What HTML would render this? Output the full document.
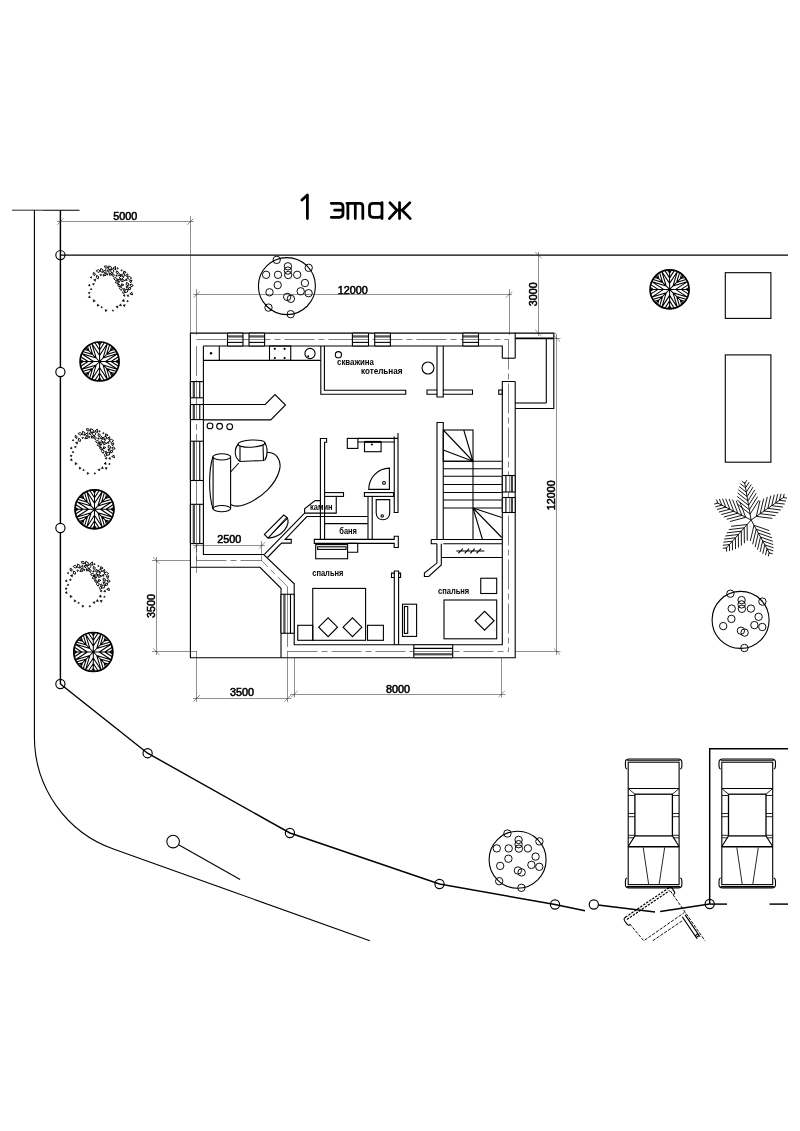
<!DOCTYPE html>
<html><head><meta charset="utf-8"><title>1 этаж</title>
<style>
html,body{margin:0;padding:0;background:#fff;}
body{width:800px;height:1131px;overflow:hidden;font-family:"Liberation Sans",sans-serif;}
svg{display:block;will-change:transform}
.w{stroke:#000;stroke-width:1.1;fill:none}
.w2{stroke:#000;stroke-width:1.6;fill:none}
.m{stroke:#000;stroke-width:.85;fill:none}
.m2{stroke:#000;stroke-width:.95;fill:none}
.f{stroke:#000;stroke-width:1.45;fill:none}
.t{stroke:#222;stroke-width:.5;fill:none}
.cl{stroke:#000;stroke-width:.5;fill:none;stroke-dasharray:30 4 6 4}
.dash{stroke:#000;stroke-width:.85;fill:none;stroke-dasharray:3.2 1.4}
.dash2{stroke:#000;stroke-width:1.2;fill:none;stroke-dasharray:2.4 1.2}
.pm{stroke:#000;stroke-width:.9;fill:none}
.tb{stroke:#000;stroke-width:1.05;fill:none}
.ta{stroke:#000;stroke-width:.5;fill:#000}
.tao{stroke:#000;stroke-width:.95;fill:none}
.d{font-family:"Liberation Sans",sans-serif;fill:#000;stroke:#000;stroke-width:.55}
.lbl{font-family:"Liberation Sans",sans-serif;fill:#000;font-weight:bold}
.ttl path{stroke:#000;stroke-width:2.75;fill:none;stroke-linecap:round;stroke-linejoin:round}
</style></head><body>
<svg width="800" height="1131" viewBox="0 0 800 1131">

<line class="m" x1="12" y1="210.2" x2="42.5" y2="210.2"/>
<line class="w" x1="42.5" y1="210.2" x2="79.5" y2="210.2"/>
<path class="w" d="M34.4 210.2 L34.4 737 A119 119 0 0 0 114.1 849.3 L369.8 940.7" />
<line class="f" x1="60.4" y1="210.2" x2="60.4" y2="684"/>
<line class="f" x1="60.4" y1="255.1" x2="788" y2="255.1"/>
<path class="f" d="M60.4 684 L147.6 753.2 L289.9 833 L439.5 884 L555 904.5 L585 910.7" />
<path class="f" d="M594 904.5 L655 912" />
<path class="f" d="M660.2 911.5 L709.7 904" />
<line class="f" x1="709.7" y1="904.1" x2="727" y2="904.1"/>
<line class="f" x1="769.5" y1="904.1" x2="788" y2="904.1"/>
<path class="f" d="M709.7 904 L709.7 748.7 L788 748.7" />
<circle cx="60.4" cy="255.1" r="4.6" fill="none" stroke="#000" stroke-width="1.15"/>
<circle cx="60.4" cy="684" r="4.6" fill="none" stroke="#000" stroke-width="1.15"/>
<circle cx="147.6" cy="753.2" r="4.6" fill="none" stroke="#000" stroke-width="1.15"/>
<circle cx="289.9" cy="833" r="4.6" fill="none" stroke="#000" stroke-width="1.15"/>
<circle cx="439.5" cy="884" r="4.6" fill="none" stroke="#000" stroke-width="1.15"/>
<circle cx="555" cy="904.5" r="4.6" fill="none" stroke="#000" stroke-width="1.15"/>
<circle cx="709.7" cy="904" r="4.6" fill="none" stroke="#000" stroke-width="1.15"/>
<circle cx="60.4" cy="372" r="4.6" fill="#fff" stroke="#000" stroke-width="1.15"/>
<circle cx="60.4" cy="528" r="4.6" fill="#fff" stroke="#000" stroke-width="1.15"/>
<circle cx="593.8" cy="904.5" r="4.6" fill="#fff" stroke="#000" stroke-width="1.15"/>
<circle class="w" cx="173.1" cy="841.6" r="6.3"/>
<line class="w" x1="178.6" y1="844.8" x2="240.1" y2="879.6"/>
<rect class="w" x="725.3" y="272.7" width="45.60000000000002" height="45.69999999999999"/>
<rect class="w" x="725.3" y="354.9" width="45.60000000000002" height="107.30000000000001"/>
<circle class="w" cx="286.9" cy="286.1" r="28.5"/>
<circle class="m2" cx="276.7" cy="259.9" r="3.7"/>
<circle class="m2" cx="287.9" cy="266.3" r="3.7"/>
<circle class="m2" cx="287.9" cy="270.6" r="3.7"/>
<circle class="m2" cx="288.2" cy="275.0" r="3.7"/>
<circle class="m2" cx="308.7" cy="267.8" r="3.7"/>
<circle class="m2" cx="266.1" cy="274.8" r="3.7"/>
<circle class="m2" cx="278.0" cy="274.8" r="3.7"/>
<circle class="m2" cx="297.2" cy="274.8" r="3.7"/>
<circle class="m2" cx="277.7" cy="285.1" r="3.7"/>
<circle class="m2" cx="304.9" cy="283.0" r="3.7"/>
<circle class="m2" cx="269.5" cy="292.3" r="3.7"/>
<circle class="m2" cx="300.7" cy="291.3" r="3.7"/>
<circle class="m2" cx="308.6" cy="293.2" r="3.7"/>
<circle class="m2" cx="287.2" cy="296.9" r="3.7"/>
<circle class="m2" cx="290.9" cy="298.8" r="3.7"/>
<circle class="m2" cx="268.5" cy="307.6" r="3.7"/>
<circle class="m2" cx="290.7" cy="314.2" r="3.7"/>
<circle class="w" cx="740.6" cy="619.9" r="28.5"/>
<circle class="m2" cx="730.4" cy="593.7" r="3.7"/>
<circle class="m2" cx="741.6" cy="600.1" r="3.7"/>
<circle class="m2" cx="741.6" cy="604.4" r="3.7"/>
<circle class="m2" cx="741.9" cy="608.8" r="3.7"/>
<circle class="m2" cx="762.4" cy="601.6" r="3.7"/>
<circle class="m2" cx="731.7" cy="608.6" r="3.7"/>
<circle class="m2" cx="750.9" cy="608.6" r="3.7"/>
<circle class="m2" cx="731.4" cy="618.9" r="3.7"/>
<circle class="m2" cx="758.6" cy="616.8" r="3.7"/>
<circle class="m2" cx="723.2" cy="626.1" r="3.7"/>
<circle class="m2" cx="754.4" cy="625.1" r="3.7"/>
<circle class="m2" cx="762.3" cy="627.0" r="3.7"/>
<circle class="m2" cx="740.9" cy="630.7" r="3.7"/>
<circle class="m2" cx="744.6" cy="632.6" r="3.7"/>
<circle class="m2" cx="744.4" cy="648.0" r="3.7"/>
<circle class="w" cx="517.6" cy="859.7" r="28.5"/>
<circle class="m2" cx="507.4" cy="833.5" r="3.7"/>
<circle class="m2" cx="518.6" cy="839.9" r="3.7"/>
<circle class="m2" cx="518.6" cy="844.2" r="3.7"/>
<circle class="m2" cx="518.9" cy="848.6" r="3.7"/>
<circle class="m2" cx="539.4" cy="841.4" r="3.7"/>
<circle class="m2" cx="496.8" cy="848.4" r="3.7"/>
<circle class="m2" cx="508.7" cy="848.4" r="3.7"/>
<circle class="m2" cx="527.9" cy="848.4" r="3.7"/>
<circle class="m2" cx="508.4" cy="858.7" r="3.7"/>
<circle class="m2" cx="535.6" cy="856.6" r="3.7"/>
<circle class="m2" cx="500.2" cy="865.9" r="3.7"/>
<circle class="m2" cx="531.4" cy="864.9" r="3.7"/>
<circle class="m2" cx="539.3" cy="866.8" r="3.7"/>
<circle class="m2" cx="517.9" cy="870.5" r="3.7"/>
<circle class="m2" cx="521.6" cy="872.4" r="3.7"/>
<circle class="m2" cx="499.2" cy="881.2" r="3.7"/>
<circle class="m2" cx="521.4" cy="887.8" r="3.7"/>
<circle cx="99.6" cy="361.5" r="19.5" fill="#fff" stroke="#000" stroke-width="1.7"/>
<path class="tb" d="M99.6 361.5L119.5 361.5M105.6 361.5L117.8 353.5M111.1 361.5L118.9 356.5M115.9 361.5L119.4 359.3M105.6 361.5L117.8 369.5M111.1 361.5L118.9 366.5M115.9 361.5L119.4 363.7M99.6 361.5L113.7 375.6M103.0 364.9L117.9 369.4M106.6 368.5L116.7 371.6M110.3 372.2L115.3 373.7M103.0 364.9L107.5 379.8M106.6 368.5L109.7 378.6M110.3 372.2L111.8 377.2M99.6 361.5L99.6 381.4M99.6 367.5L107.6 379.7M99.6 373.0L104.6 380.8M99.6 377.8L101.8 381.3M99.6 367.5L91.6 379.7M99.6 373.0L94.6 380.8M99.6 377.8L97.4 381.3M99.6 361.5L85.5 375.6M96.2 364.9L91.7 379.8M92.6 368.5L89.5 378.6M88.9 372.2L87.4 377.2M96.2 364.9L81.3 369.4M92.6 368.5L82.5 371.6M88.9 372.2L83.9 373.7M99.6 361.5L79.7 361.5M93.6 361.5L81.4 369.5M88.1 361.5L80.3 366.5M83.3 361.5L79.8 363.7M93.6 361.5L81.4 353.5M88.1 361.5L80.3 356.5M83.3 361.5L79.8 359.3M99.6 361.5L85.5 347.4M96.2 358.1L81.3 353.6M92.6 354.5L82.5 351.4M88.9 350.8L83.9 349.3M96.2 358.1L91.7 343.2M92.6 354.5L89.5 344.4M88.9 350.8L87.4 345.8M99.6 361.5L99.6 341.6M99.6 355.5L91.6 343.3M99.6 350.0L94.6 342.2M99.6 345.2L97.4 341.7M99.6 355.5L107.6 343.3M99.6 350.0L104.6 342.2M99.6 345.2L101.8 341.7M99.6 361.5L113.7 347.4M103.0 358.1L107.5 343.2M106.6 354.5L109.7 344.4M110.3 350.8L111.8 345.8M103.0 358.1L117.9 353.6M106.6 354.5L116.7 351.4M110.3 350.8L115.3 349.3" />
<circle cx="94.5" cy="509.3" r="19.5" fill="#fff" stroke="#000" stroke-width="1.7"/>
<path class="tb" d="M94.5 509.3L114.4 509.3M100.5 509.3L112.7 501.3M106.0 509.3L113.8 504.3M110.8 509.3L114.3 507.1M100.5 509.3L112.7 517.3M106.0 509.3L113.8 514.3M110.8 509.3L114.3 511.5M94.5 509.3L108.6 523.4M97.9 512.7L112.8 517.2M101.5 516.3L111.6 519.4M105.2 520.0L110.2 521.5M97.9 512.7L102.4 527.6M101.5 516.3L104.6 526.4M105.2 520.0L106.7 525.0M94.5 509.3L94.5 529.2M94.5 515.3L102.5 527.5M94.5 520.8L99.5 528.6M94.5 525.6L96.7 529.1M94.5 515.3L86.5 527.5M94.5 520.8L89.5 528.6M94.5 525.6L92.3 529.1M94.5 509.3L80.4 523.4M91.1 512.7L86.6 527.6M87.5 516.3L84.4 526.4M83.8 520.0L82.3 525.0M91.1 512.7L76.2 517.2M87.5 516.3L77.4 519.4M83.8 520.0L78.8 521.5M94.5 509.3L74.6 509.3M88.5 509.3L76.3 517.3M83.0 509.3L75.2 514.3M78.2 509.3L74.7 511.5M88.5 509.3L76.3 501.3M83.0 509.3L75.2 504.3M78.2 509.3L74.7 507.1M94.5 509.3L80.4 495.2M91.1 505.9L76.2 501.4M87.5 502.3L77.4 499.2M83.8 498.6L78.8 497.1M91.1 505.9L86.6 491.0M87.5 502.3L84.4 492.2M83.8 498.6L82.3 493.6M94.5 509.3L94.5 489.4M94.5 503.3L86.5 491.1M94.5 497.8L89.5 490.0M94.5 493.0L92.3 489.5M94.5 503.3L102.5 491.1M94.5 497.8L99.5 490.0M94.5 493.0L96.7 489.5M94.5 509.3L108.6 495.2M97.9 505.9L102.4 491.0M101.5 502.3L104.6 492.2M105.2 498.6L106.7 493.6M97.9 505.9L112.8 501.4M101.5 502.3L111.6 499.2M105.2 498.6L110.2 497.1" />
<circle cx="93.3" cy="652" r="19.5" fill="#fff" stroke="#000" stroke-width="1.7"/>
<path class="tb" d="M93.3 652.0L113.2 652.0M99.3 652.0L111.5 644.0M104.8 652.0L112.6 647.0M109.6 652.0L113.1 649.8M99.3 652.0L111.5 660.0M104.8 652.0L112.6 657.0M109.6 652.0L113.1 654.2M93.3 652.0L107.4 666.1M96.7 655.4L111.6 659.9M100.3 659.0L110.4 662.1M104.0 662.7L109.0 664.2M96.7 655.4L101.2 670.3M100.3 659.0L103.4 669.1M104.0 662.7L105.5 667.7M93.3 652.0L93.3 671.9M93.3 658.0L101.3 670.2M93.3 663.5L98.3 671.3M93.3 668.3L95.5 671.8M93.3 658.0L85.3 670.2M93.3 663.5L88.3 671.3M93.3 668.3L91.1 671.8M93.3 652.0L79.2 666.1M89.9 655.4L85.4 670.3M86.3 659.0L83.2 669.1M82.6 662.7L81.1 667.7M89.9 655.4L75.0 659.9M86.3 659.0L76.2 662.1M82.6 662.7L77.6 664.2M93.3 652.0L73.4 652.0M87.3 652.0L75.1 660.0M81.8 652.0L74.0 657.0M77.0 652.0L73.5 654.2M87.3 652.0L75.1 644.0M81.8 652.0L74.0 647.0M77.0 652.0L73.5 649.8M93.3 652.0L79.2 637.9M89.9 648.6L75.0 644.1M86.3 645.0L76.2 641.9M82.6 641.3L77.6 639.8M89.9 648.6L85.4 633.7M86.3 645.0L83.2 634.9M82.6 641.3L81.1 636.3M93.3 652.0L93.3 632.1M93.3 646.0L85.3 633.8M93.3 640.5L88.3 632.7M93.3 635.7L91.1 632.2M93.3 646.0L101.3 633.8M93.3 640.5L98.3 632.7M93.3 635.7L95.5 632.2M93.3 652.0L107.4 637.9M96.7 648.6L101.2 633.7M100.3 645.0L103.4 634.9M104.0 641.3L105.5 636.3M96.7 648.6L111.6 644.1M100.3 645.0L110.4 641.9M104.0 641.3L109.0 639.8" />
<circle cx="669.6" cy="289.4" r="19.5" fill="#fff" stroke="#000" stroke-width="1.7"/>
<path class="tb" d="M669.6 289.4L689.5 289.4M675.6 289.4L687.8 281.4M681.1 289.4L688.9 284.4M685.9 289.4L689.4 287.2M675.6 289.4L687.8 297.4M681.1 289.4L688.9 294.4M685.9 289.4L689.4 291.6M669.6 289.4L683.7 303.5M673.0 292.8L687.9 297.3M676.6 296.4L686.7 299.5M680.3 300.1L685.3 301.6M673.0 292.8L677.5 307.7M676.6 296.4L679.7 306.5M680.3 300.1L681.8 305.1M669.6 289.4L669.6 309.3M669.6 295.4L677.6 307.6M669.6 300.9L674.6 308.7M669.6 305.7L671.8 309.2M669.6 295.4L661.6 307.6M669.6 300.9L664.6 308.7M669.6 305.7L667.4 309.2M669.6 289.4L655.5 303.5M666.2 292.8L661.7 307.7M662.6 296.4L659.5 306.5M658.9 300.1L657.4 305.1M666.2 292.8L651.3 297.3M662.6 296.4L652.5 299.5M658.9 300.1L653.9 301.6M669.6 289.4L649.7 289.4M663.6 289.4L651.4 297.4M658.1 289.4L650.3 294.4M653.3 289.4L649.8 291.6M663.6 289.4L651.4 281.4M658.1 289.4L650.3 284.4M653.3 289.4L649.8 287.2M669.6 289.4L655.5 275.3M666.2 286.0L651.3 281.5M662.6 282.4L652.5 279.3M658.9 278.7L653.9 277.2M666.2 286.0L661.7 271.1M662.6 282.4L659.5 272.3M658.9 278.7L657.4 273.7M669.6 289.4L669.6 269.5M669.6 283.4L661.6 271.2M669.6 277.9L664.6 270.1M669.6 273.1L667.4 269.6M669.6 283.4L677.6 271.2M669.6 277.9L674.6 270.1M669.6 273.1L671.8 269.6M669.6 289.4L683.7 275.3M673.0 286.0L677.5 271.1M676.6 282.4L679.7 272.3M680.3 278.7L681.8 273.7M673.0 286.0L687.9 281.5M676.6 282.4L686.7 279.3M680.3 278.7L685.3 277.2" />
<path class="tao" d="M100.2 271.4L98.0 272.5L96.2 270.7L98.5 269.6ZM125.4 275.4L123.2 276.4L121.4 274.7L123.6 273.7ZM112.0 274.7L109.5 275.3L109.7 272.7ZM124.7 292.6L125.1 289.7L127.9 289.2L127.5 292.0ZM117.7 279.5L115.3 280.4L113.6 278.4L116.0 277.5ZM121.5 286.2L121.7 283.8L123.9 284.8ZM130.8 283.0L129.4 280.8L132.0 280.1ZM133.2 286.0L131.0 286.6L129.8 284.7L131.9 284.1ZM111.1 270.0L108.5 268.7L108.8 265.8L111.4 267.1ZM121.3 290.5L119.5 288.8L120.5 286.5L122.3 288.2ZM127.8 277.1L125.6 275.4L127.8 273.8ZM121.7 281.9L122.2 279.1L124.8 280.5ZM117.8 274.0L116.1 272.8L116.6 270.8L118.4 272.0ZM119.1 282.5L117.7 279.5L121.0 279.1ZM107.7 268.0L105.4 268.2L104.4 266.1L106.7 265.9ZM102.6 272.6L100.2 271.2L100.7 268.5L103.1 269.8ZM118.5 275.7L119.6 273.6L121.3 275.3ZM115.5 269.9L113.0 268.1L115.5 266.3ZM129.8 293.8L132.0 292.4L132.6 294.9ZM98.3 278.8L96.3 277.6L96.7 275.4L98.7 276.5ZM128.3 289.8L128.7 287.7L130.8 287.4L130.4 289.5ZM127.2 278.0L129.4 276.4L131.7 277.9L129.5 279.5ZM113.7 276.8L112.0 275.5L112.5 273.4L114.3 274.7ZM128.3 285.8L126.2 284.8L126.4 282.4L128.5 283.5ZM120.5 286.5L118.4 286.5L117.7 284.6L119.7 284.5ZM94.9 275.5L93.1 274.5L93.4 272.5L95.2 273.5ZM108.5 272.3L107.2 270.2L109.6 269.6ZM106.1 273.6L103.2 271.8L105.8 269.6ZM112.1 273.4L110.5 270.9L112.3 268.6L113.9 271.1ZM123.3 273.6L123.9 271.0L126.2 272.4ZM103.0 276.0L104.0 273.6L106.0 275.3ZM119.0 277.8L121.2 275.9L123.7 277.4L121.5 279.2ZM118.5 283.7L115.3 282.7L117.3 280.0ZM123.3 293.8L122.5 291.8L124.0 290.4L124.8 292.4Z" />
<path class="ta" d="M122.0 301.0L123.8 299.2L124.4 301.6ZM95.4 281.4L93.5 279.8L95.8 279.0ZM100.7 276.1L99.9 274.3L101.8 274.5ZM105.5 311.7L105.2 309.5L107.2 310.3ZM90.1 286.1L88.2 285.5L89.7 284.1ZM99.3 305.4L97.3 306.3L97.5 304.0ZM112.1 311.1L112.9 309.7L113.7 311.1ZM126.8 296.0L128.1 294.5L128.8 296.4ZM118.5 268.6L116.9 269.2L117.1 267.5ZM89.2 294.1L88.2 292.4L90.2 292.4ZM90.1 277.5L91.5 276.5L91.6 278.2ZM101.0 307.8L101.4 306.3L102.6 307.4ZM95.4 300.9L93.2 302.0L93.4 299.6ZM128.5 301.2L127.0 302.0L127.1 300.3ZM127.2 280.7L124.9 280.2L126.5 278.5ZM107.2 275.4L106.2 273.6L108.3 273.7ZM122.2 270.9L120.7 270.7L121.7 269.4ZM117.5 308.2L115.9 306.5L118.1 306.0ZM124.4 306.7L123.1 304.9L125.3 304.7ZM88.3 297.4L89.6 295.7L90.4 297.7ZM90.4 289.8L91.0 288.2L92.1 289.5ZM123.0 295.4L124.8 294.4L124.8 296.5ZM126.8 288.4L125.9 286.2L128.2 286.5ZM93.7 285.3L92.4 283.8L94.3 283.4ZM115.6 276.0L116.8 274.6L117.4 276.3ZM119.3 305.6L120.6 303.8L121.5 305.8ZM124.4 290.0L122.9 289.0L124.6 288.2Z" />
<path class="tao" d="M82.1 434.3L79.9 435.3L78.1 433.5L80.4 432.5ZM107.3 438.3L105.1 439.3L103.3 437.6L105.5 436.6ZM93.9 437.6L91.4 438.1L91.6 435.6ZM106.6 455.4L107.0 452.6L109.8 452.0L109.4 454.9ZM99.6 442.3L97.2 443.2L95.5 441.3L97.9 440.4ZM103.4 449.0L103.6 446.6L105.8 447.6ZM112.7 445.9L111.3 443.6L113.9 443.0ZM115.1 448.8L112.9 449.4L111.7 447.6L113.8 447.0ZM93.0 432.8L90.4 431.5L90.7 428.6L93.3 429.9ZM103.2 453.4L101.4 451.6L102.4 449.3L104.2 451.1ZM109.7 439.9L107.5 438.3L109.7 436.7ZM103.6 444.8L104.1 441.9L106.7 443.4ZM99.7 436.9L98.0 435.7L98.5 433.6L100.3 434.8ZM101.0 445.4L99.6 442.3L102.9 442.0ZM89.6 430.8L87.3 431.0L86.3 428.9L88.6 428.7ZM84.5 435.4L82.1 434.1L82.6 431.3L85.0 432.7ZM100.4 438.6L101.5 436.4L103.2 438.2ZM97.4 432.7L94.9 431.0L97.4 429.1ZM111.7 456.6L113.9 455.2L114.5 457.7ZM80.2 441.6L78.2 440.5L78.6 438.2L80.6 439.4ZM110.2 452.7L110.6 450.6L112.7 450.3L112.3 452.4ZM109.1 440.9L111.3 439.2L113.6 440.7L111.4 442.4ZM95.6 439.6L93.9 438.4L94.4 436.3L96.2 437.5ZM110.2 448.6L108.1 447.6L108.3 445.3L110.4 446.3ZM102.4 449.3L100.3 449.4L99.6 447.5L101.6 447.4ZM76.8 438.4L75.0 437.4L75.3 435.4L77.1 436.4ZM90.4 435.1L89.1 433.1L91.5 432.5ZM88.0 436.4L85.1 434.7L87.7 432.5ZM94.0 436.3L92.4 433.8L94.2 431.5L95.8 433.9ZM105.2 436.5L105.8 433.8L108.1 435.3ZM84.9 438.8L85.9 436.5L87.9 438.2ZM100.9 440.6L103.1 438.8L105.6 440.2L103.4 442.1ZM100.4 446.6L97.2 445.5L99.2 442.8ZM105.2 456.7L104.4 454.7L105.9 453.2L106.7 455.2Z" />
<path class="ta" d="M103.9 463.8L105.7 462.1L106.3 464.4ZM77.3 444.3L75.4 442.7L77.7 441.8ZM82.6 438.9L81.8 437.2L83.7 437.4ZM87.4 474.5L87.1 472.4L89.1 473.2ZM72.0 449.0L70.1 448.3L71.6 447.0ZM81.2 468.2L79.2 469.2L79.4 466.9ZM94.0 474.0L94.8 472.5L95.6 474.0ZM108.7 458.9L110.0 457.3L110.7 459.2ZM100.4 431.4L98.8 432.1L99.0 430.4ZM71.1 457.0L70.1 455.2L72.1 455.3ZM72.0 440.4L73.4 439.4L73.5 441.0ZM82.9 470.7L83.3 469.1L84.5 470.3ZM77.3 463.8L75.1 464.8L75.3 462.4ZM110.4 464.0L108.9 464.8L109.0 463.1ZM109.1 443.5L106.8 443.0L108.4 441.3ZM89.1 438.3L88.1 436.5L90.2 436.5ZM104.1 433.7L102.6 433.5L103.6 432.3ZM99.4 471.0L97.8 469.4L100.0 468.9ZM106.3 469.6L105.0 467.8L107.2 467.5ZM70.2 460.2L71.5 458.6L72.3 460.6ZM72.3 452.7L72.9 451.1L74.0 452.4ZM104.9 458.3L106.7 457.2L106.7 459.3ZM108.7 451.2L107.8 449.0L110.1 449.4ZM75.6 448.1L74.3 446.7L76.2 446.3ZM97.5 438.9L98.7 437.4L99.3 439.2ZM101.2 468.5L102.5 466.6L103.4 468.6ZM106.3 452.9L104.8 451.9L106.5 451.0Z" />
<path class="tao" d="M77.1 567.1L74.9 568.1L73.1 566.3L75.4 565.3ZM102.3 571.1L100.1 572.1L98.3 570.4L100.5 569.4ZM88.9 570.4L86.4 570.9L86.6 568.4ZM101.6 588.2L102.0 585.4L104.8 584.8L104.4 587.7ZM94.6 575.1L92.2 576.0L90.5 574.1L92.9 573.2ZM98.4 581.8L98.6 579.4L100.8 580.4ZM107.7 578.7L106.3 576.4L108.9 575.8ZM110.1 581.6L107.9 582.2L106.7 580.4L108.8 579.8ZM88.0 565.6L85.4 564.3L85.7 561.4L88.3 562.7ZM98.2 586.2L96.4 584.4L97.4 582.1L99.2 583.9ZM104.7 572.7L102.5 571.1L104.7 569.5ZM98.6 577.6L99.1 574.7L101.7 576.2ZM94.7 569.7L93.0 568.5L93.5 566.4L95.3 567.6ZM96.0 578.2L94.6 575.1L97.9 574.8ZM84.6 563.6L82.3 563.8L81.3 561.7L83.6 561.5ZM79.5 568.2L77.1 566.9L77.6 564.1L80.0 565.5ZM95.4 571.4L96.5 569.2L98.2 571.0ZM92.4 565.5L89.9 563.8L92.4 561.9ZM106.7 589.4L108.9 588.0L109.5 590.5ZM75.2 574.4L73.2 573.3L73.6 571.0L75.6 572.2ZM105.2 585.5L105.6 583.4L107.7 583.1L107.3 585.2ZM104.1 573.7L106.3 572.0L108.6 573.5L106.4 575.2ZM90.6 572.4L88.9 571.2L89.4 569.1L91.2 570.3ZM105.2 581.4L103.1 580.4L103.3 578.1L105.4 579.1ZM97.4 582.1L95.3 582.2L94.6 580.3L96.6 580.2ZM71.8 571.2L70.0 570.2L70.3 568.2L72.1 569.2ZM85.4 567.9L84.1 565.9L86.5 565.3ZM83.0 569.2L80.1 567.5L82.7 565.3ZM89.0 569.1L87.4 566.6L89.2 564.3L90.8 566.7ZM100.2 569.3L100.8 566.6L103.1 568.1ZM79.9 571.6L80.9 569.3L82.9 571.0ZM95.9 573.4L98.1 571.6L100.6 573.0L98.4 574.9ZM95.4 579.4L92.2 578.3L94.2 575.6ZM100.2 589.5L99.4 587.5L100.9 586.0L101.7 588.0Z" />
<path class="ta" d="M98.9 596.6L100.7 594.9L101.3 597.2ZM72.3 577.1L70.4 575.5L72.7 574.6ZM77.6 571.7L76.8 570.0L78.7 570.2ZM82.4 607.3L82.1 605.2L84.1 606.0ZM67.0 581.8L65.1 581.1L66.6 579.8ZM76.2 601.0L74.2 602.0L74.4 599.7ZM89.0 606.8L89.8 605.3L90.6 606.8ZM103.7 591.7L105.0 590.1L105.7 592.0ZM95.4 564.2L93.8 564.9L94.0 563.2ZM66.1 589.8L65.1 588.0L67.1 588.1ZM67.0 573.2L68.4 572.2L68.5 573.8ZM77.9 603.5L78.3 601.9L79.5 603.1ZM72.3 596.6L70.1 597.6L70.3 595.2ZM105.4 596.8L103.9 597.6L104.0 595.9ZM104.1 576.3L101.8 575.8L103.4 574.1ZM84.1 571.1L83.1 569.3L85.2 569.3ZM99.1 566.5L97.6 566.3L98.6 565.1ZM94.4 603.8L92.8 602.2L95.0 601.7ZM101.3 602.4L100.0 600.6L102.2 600.3ZM65.2 593.0L66.5 591.4L67.3 593.4ZM67.3 585.5L67.9 583.9L69.0 585.2ZM99.9 591.1L101.7 590.0L101.7 592.1ZM103.7 584.0L102.8 581.8L105.1 582.2ZM70.6 580.9L69.3 579.5L71.2 579.1ZM92.5 571.7L93.7 570.2L94.3 572.0ZM96.2 601.3L97.5 599.4L98.4 601.4ZM101.3 585.7L99.8 584.7L101.5 583.8Z" />
<path class="pm" d="M751.1 520L744.6 482.3M750.1 514.1L737.4 504.1M750.1 514.1L758.7 500.4M749.3 509.7L737.2 500.1M749.3 509.7L757.6 496.6M748.6 505.3L737.2 496.4M748.6 505.3L756.3 493.1M747.8 501.0L737.6 492.9M747.8 501.0L754.8 489.9M747.1 496.6L738.2 489.6M747.1 496.6L753.1 487.0M746.3 492.2L739.1 486.5M746.3 492.2L751.2 484.5M745.6 487.8L740.3 483.7M745.6 487.8L749.1 482.2M744.8 483.4L741.8 481.1M744.8 483.4L746.8 480.2M751.1 520L784.3 496.9M756.3 516.4L760.0 500.6M756.3 516.4L772.3 518.4M760.1 513.7L763.7 498.6M760.1 513.7L775.5 515.6M764.0 511.0L767.3 496.9M764.0 511.0L778.3 512.8M767.9 508.3L770.8 495.6M767.9 508.3L780.8 510.0M771.7 505.6L774.3 494.7M771.7 505.6L782.9 507.1M775.6 503.0L777.7 494.1M775.6 503.0L784.7 504.1M779.4 500.3L781.0 493.8M779.4 500.3L786.0 501.1M783.3 497.6L784.2 493.9M783.3 497.6L787.0 498.1M751.1 520L769.7 553.7M754.0 525.3L769.3 530.6M754.0 525.3L750.3 541.0M756.2 529.2L770.8 534.3M756.2 529.2L752.7 544.3M758.3 533.1L772.0 537.8M758.3 533.1L755.1 547.2M760.5 537.0L772.8 541.3M760.5 537.0L757.5 549.7M762.7 540.9L773.3 544.6M762.7 540.9L760.1 551.9M764.8 544.9L773.5 547.8M764.8 544.9L762.7 553.8M767.0 548.8L773.3 550.9M767.0 548.8L765.5 555.2M769.1 552.7L772.7 553.9M769.1 552.7L768.3 556.4M751.1 520L725.8 548.7M747.1 524.5L747.3 540.7M747.1 524.5L731.1 526.3M744.2 527.8L744.4 543.3M744.2 527.8L728.8 529.6M741.3 531.2L741.4 545.6M741.3 531.2L726.9 532.8M738.3 534.5L738.5 547.5M738.3 534.5L725.4 536.0M735.4 537.8L735.5 549.1M735.4 537.8L724.2 539.1M732.4 541.2L732.5 550.3M732.4 541.2L723.4 542.2M729.5 544.5L729.6 551.1M729.5 544.5L722.9 545.3M726.6 547.8L726.6 551.6M726.6 547.8L722.8 548.3M751.1 520L716.8 502.6M745.7 517.3L730.1 521.5M745.7 517.3L739.9 502.2M741.8 515.3L726.8 519.3M741.8 515.3L736.2 500.8M737.8 513.2L723.8 517.0M737.8 513.2L732.6 499.7M733.8 511.2L721.2 514.6M733.8 511.2L729.1 499.0M729.8 509.2L718.9 512.1M729.8 509.2L725.7 498.7M725.8 507.2L717.0 509.5M725.8 507.2L722.5 498.6M721.8 505.1L715.4 506.9M721.8 505.1L719.4 499.0M717.8 503.1L714.2 504.1M717.8 503.1L716.5 499.6" />
<path class="w" d="M627.2 769 C625.2 769 625.4 766 625.4 762.5 C625.4 759.8 626.5 759 629 759 L678.3 759 C680.8 759 681.9 759.8 681.9 762.5 C681.9 766 682.1 769 680.1 769"/>
<path class="w" d="M627.2 878 C625.2 878 625.4 881 625.4 884.5 C625.4 887 626.5 887.9 629 887.9 L678.3 887.9 C680.8 887.9 681.9 887 681.9 884.5 C681.9 881 682.1 878 680.1 878"/>
<line class="w" x1="627" y1="760.2" x2="680.3" y2="760.2"/>
<line class="w" x1="627" y1="886.6" x2="680.3" y2="886.6"/>
<rect class="w" x="628.2" y="762.2" width="50.89999999999998" height="122.39999999999998"/>
<line class="w" x1="628.2" y1="788.5" x2="679.1" y2="788.5"/>
<line class="m" x1="628.2" y1="788.5" x2="634.9" y2="794.2"/>
<line class="m" x1="679.1" y1="788.5" x2="672.4" y2="794.2"/>
<rect class="w2" x="634.9" y="794.2" width="37.5" height="41.7" style="stroke-width:1.3"/>
<line class="m" x1="628.2" y1="795.5" x2="634.9" y2="795.5"/>
<line class="m" x1="628.2" y1="813.5" x2="634.9" y2="813.5"/>
<line class="m" x1="628.2" y1="816.7" x2="634.9" y2="816.7"/>
<line class="m" x1="628.2" y1="835.3" x2="634.9" y2="835.3"/>
<line class="m" x1="672.4" y1="795.5" x2="679.1" y2="795.5"/>
<line class="m" x1="672.4" y1="813.5" x2="679.1" y2="813.5"/>
<line class="m" x1="672.4" y1="816.7" x2="679.1" y2="816.7"/>
<line class="m" x1="672.4" y1="835.3" x2="679.1" y2="835.3"/>
<line class="m" x1="628.2" y1="837.8" x2="634" y2="837.8"/>
<line class="w" x1="634.9" y1="835.9" x2="628.2" y2="846.5"/>
<line class="m" x1="679.1" y1="837.8" x2="673.3" y2="837.8"/>
<line class="w" x1="672.4" y1="835.9" x2="679.1" y2="846.5"/>
<line class="w2" x1="628.2" y1="846.8" x2="679.1" y2="846.8"/>
<line class="m" x1="643.2" y1="847.4" x2="648.6" y2="884"/>
<line class="m" x1="664.7" y1="847.4" x2="659.2" y2="884"/>
<path class="w" d="M720.8 769 C718.8 769 719.0 766 719.0 762.5 C719.0 759.8 720.1 759 722.6 759 L771.9 759 C774.4 759 775.5 759.8 775.5 762.5 C775.5 766 775.7 769 773.7 769"/>
<path class="w" d="M720.8 878 C718.8 878 719.0 881 719.0 884.5 C719.0 887 720.1 887.9 722.6 887.9 L771.9 887.9 C774.4 887.9 775.5 887 775.5 884.5 C775.5 881 775.7 878 773.7 878"/>
<line class="w" x1="720.6" y1="760.2" x2="773.9" y2="760.2"/>
<line class="w" x1="720.6" y1="886.6" x2="773.9" y2="886.6"/>
<rect class="w" x="721.8" y="762.2" width="50.90000000000009" height="122.39999999999998"/>
<line class="w" x1="721.8" y1="788.5" x2="772.7" y2="788.5"/>
<line class="m" x1="721.8" y1="788.5" x2="728.5" y2="794.2"/>
<line class="m" x1="772.7" y1="788.5" x2="766.0" y2="794.2"/>
<rect class="w2" x="728.5" y="794.2" width="37.5" height="41.7" style="stroke-width:1.3"/>
<line class="m" x1="721.8" y1="795.5" x2="728.5" y2="795.5"/>
<line class="m" x1="721.8" y1="813.5" x2="728.5" y2="813.5"/>
<line class="m" x1="721.8" y1="816.7" x2="728.5" y2="816.7"/>
<line class="m" x1="721.8" y1="835.3" x2="728.5" y2="835.3"/>
<line class="m" x1="766.0" y1="795.5" x2="772.7" y2="795.5"/>
<line class="m" x1="766.0" y1="813.5" x2="772.7" y2="813.5"/>
<line class="m" x1="766.0" y1="816.7" x2="772.7" y2="816.7"/>
<line class="m" x1="766.0" y1="835.3" x2="772.7" y2="835.3"/>
<line class="m" x1="721.8" y1="837.8" x2="727.6" y2="837.8"/>
<line class="w" x1="728.5" y1="835.9" x2="721.8" y2="846.5"/>
<line class="m" x1="772.7" y1="837.8" x2="766.9" y2="837.8"/>
<line class="w" x1="766.0" y1="835.9" x2="772.7" y2="846.5"/>
<line class="w2" x1="721.8" y1="846.8" x2="772.7" y2="846.8"/>
<line class="m" x1="736.8" y1="847.4" x2="742.2" y2="884"/>
<line class="m" x1="758.3" y1="847.4" x2="752.8" y2="884"/>
<g transform="translate(625 917.5) rotate(-34.1)">
<path class="dash2" d="M0.5 0 L53 0 M0.5 2.7 L52 2.7"/>
<path class="dash" d="M0.3 8 L2.5 29.8 L52 29.2 M10 34.8 L47 34.8 M52.5 3.5 L53.2 64"/>
<path class="w" d="M1 0 C-2 -0.3 -2.3 1.5 -2.2 4 L-2 7 C-2 8.6 -0.8 9 0.4 8.6"/>
<path class="w" d="M52 0 C55 -0.3 55.6 1 55.5 3 L55.3 6.5 C55.2 8 54 8.4 52.8 8"/>
<path class="w2" d="M47.8 31.5 L47.8 58 M51.3 31.5 L51.3 58 M47.8 54.5 L51.3 54.5 M47.8 56.5 L51.3 56.5" style="stroke-width:1.2"/>
</g>
<path class="w" d="M190.4 567.25 L190.4 333.1 L515.2 333.1 L515.2 358.2" />
<path class="w" d="M515.2 381.5 L515.2 657.7 L281 657.7" />
<path class="w" d="M502.3 358.2 L502.3 346 L203.4 346" />
<path class="w" d="M203.4 346 L203.4 554.5 L263.75 554.5 L294.2 583.75 L294.2 644.7 L394.7 644.7" />
<path class="w" d="M398.4 644.7 L502.3 644.7 L502.3 381.5 L515.2 381.5" />
<line class="w" x1="502.3" y1="358.2" x2="515.2" y2="358.2"/>
<path class="w" d="M190.4 567.25 L260 567.25 L281 588.25 L281 657.7" />
<path class="w" d="M190.4 567.25 L190.4 657.7 L281 657.7" />
<path class="cl" d="M196.5 346 L196.5 560.5 M196.5 339.5 L508.5 339.5 M508.5 339.5 L508.5 651.5 M287.5 651.5 L508.5 651.5 M196.5 560.5 L261.5 560.5 L287.5 586.75 L287.5 651" />
<rect x="227.5" y="333.1" width="15.5" height="12.899999999999977" fill="#fff" stroke="none"/>
<line class="w" x1="227.5" y1="333.1" x2="227.5" y2="346"/>
<line class="w" x1="243" y1="333.1" x2="243" y2="346"/>
<line class="w" x1="227.5" y1="333.1" x2="243" y2="333.1"/>
<line class="w" x1="227.5" y1="346" x2="243" y2="346"/>
<line class="m" x1="227.5" y1="335.94" x2="243" y2="335.94"/>
<line class="m" x1="227.5" y1="336.97" x2="243" y2="336.97"/>
<line class="t" x1="227.5" y1="339.5" x2="243" y2="339.5"/>
<line class="w" x1="227.5" y1="342.39" x2="243" y2="342.39"/>
<rect x="249" y="333.1" width="15.600000000000023" height="12.899999999999977" fill="#fff" stroke="none"/>
<line class="w" x1="249" y1="333.1" x2="249" y2="346"/>
<line class="w" x1="264.6" y1="333.1" x2="264.6" y2="346"/>
<line class="w" x1="249" y1="333.1" x2="264.6" y2="333.1"/>
<line class="w" x1="249" y1="346" x2="264.6" y2="346"/>
<line class="m" x1="249" y1="335.94" x2="264.6" y2="335.94"/>
<line class="m" x1="249" y1="336.97" x2="264.6" y2="336.97"/>
<line class="t" x1="249" y1="339.5" x2="264.6" y2="339.5"/>
<line class="w" x1="249" y1="342.39" x2="264.6" y2="342.39"/>
<rect x="352.4" y="333.1" width="16.100000000000023" height="12.899999999999977" fill="#fff" stroke="none"/>
<line class="w" x1="352.4" y1="333.1" x2="352.4" y2="346"/>
<line class="w" x1="368.5" y1="333.1" x2="368.5" y2="346"/>
<line class="w" x1="352.4" y1="333.1" x2="368.5" y2="333.1"/>
<line class="w" x1="352.4" y1="346" x2="368.5" y2="346"/>
<line class="m" x1="352.4" y1="335.94" x2="368.5" y2="335.94"/>
<line class="m" x1="352.4" y1="336.97" x2="368.5" y2="336.97"/>
<line class="t" x1="352.4" y1="339.5" x2="368.5" y2="339.5"/>
<line class="w" x1="352.4" y1="342.39" x2="368.5" y2="342.39"/>
<rect x="374.7" y="333.1" width="15.699999999999989" height="12.899999999999977" fill="#fff" stroke="none"/>
<line class="w" x1="374.7" y1="333.1" x2="374.7" y2="346"/>
<line class="w" x1="390.4" y1="333.1" x2="390.4" y2="346"/>
<line class="w" x1="374.7" y1="333.1" x2="390.4" y2="333.1"/>
<line class="w" x1="374.7" y1="346" x2="390.4" y2="346"/>
<line class="m" x1="374.7" y1="335.94" x2="390.4" y2="335.94"/>
<line class="m" x1="374.7" y1="336.97" x2="390.4" y2="336.97"/>
<line class="t" x1="374.7" y1="339.5" x2="390.4" y2="339.5"/>
<line class="w" x1="374.7" y1="342.39" x2="390.4" y2="342.39"/>
<rect x="462.8" y="333.1" width="15.699999999999989" height="12.899999999999977" fill="#fff" stroke="none"/>
<line class="w" x1="462.8" y1="333.1" x2="462.8" y2="346"/>
<line class="w" x1="478.5" y1="333.1" x2="478.5" y2="346"/>
<line class="w" x1="462.8" y1="333.1" x2="478.5" y2="333.1"/>
<line class="w" x1="462.8" y1="346" x2="478.5" y2="346"/>
<line class="m" x1="462.8" y1="335.94" x2="478.5" y2="335.94"/>
<line class="m" x1="462.8" y1="336.97" x2="478.5" y2="336.97"/>
<line class="t" x1="462.8" y1="339.5" x2="478.5" y2="339.5"/>
<line class="w" x1="462.8" y1="342.39" x2="478.5" y2="342.39"/>
<rect x="413.8" y="644.7" width="38.89999999999998" height="13.0" fill="#fff" stroke="none"/>
<line class="w" x1="413.8" y1="657.7" x2="413.8" y2="644.7"/>
<line class="w" x1="452.7" y1="657.7" x2="452.7" y2="644.7"/>
<line class="w" x1="413.8" y1="657.7" x2="452.7" y2="657.7"/>
<line class="w" x1="413.8" y1="644.7" x2="452.7" y2="644.7"/>
<line class="m" x1="413.8" y1="654.84" x2="452.7" y2="654.84"/>
<line class="m" x1="413.8" y1="653.8" x2="452.7" y2="653.8"/>
<line class="t" x1="413.8" y1="651.5" x2="452.7" y2="651.5"/>
<line class="w" x1="413.8" y1="648.34" x2="452.7" y2="648.34"/>
<rect y="381.6" x="190.4" height="16.19999999999999" width="13.0" fill="#fff" stroke="none"/>
<line class="w" x1="190.4" y1="381.6" x2="203.4" y2="381.6"/>
<line class="w" x1="190.4" y1="397.8" x2="203.4" y2="397.8"/>
<line class="w" x1="190.4" y1="381.6" x2="190.4" y2="397.8"/>
<line class="w" x1="203.4" y1="381.6" x2="203.4" y2="397.8"/>
<line class="m" x1="193.26" y1="381.6" x2="193.26" y2="397.8"/>
<line class="m" x1="194.3" y1="381.6" x2="194.3" y2="397.8"/>
<line class="t" x1="196.5" y1="381.6" x2="196.5" y2="397.8"/>
<line class="w" x1="199.76" y1="381.6" x2="199.76" y2="397.8"/>
<rect y="404.5" x="190.4" height="15.100000000000023" width="13.0" fill="#fff" stroke="none"/>
<line class="w" x1="190.4" y1="404.5" x2="203.4" y2="404.5"/>
<line class="w" x1="190.4" y1="419.6" x2="203.4" y2="419.6"/>
<line class="w" x1="190.4" y1="404.5" x2="190.4" y2="419.6"/>
<line class="w" x1="203.4" y1="404.5" x2="203.4" y2="419.6"/>
<line class="m" x1="193.26" y1="404.5" x2="193.26" y2="419.6"/>
<line class="m" x1="194.3" y1="404.5" x2="194.3" y2="419.6"/>
<line class="t" x1="196.5" y1="404.5" x2="196.5" y2="419.6"/>
<line class="w" x1="199.76" y1="404.5" x2="199.76" y2="419.6"/>
<rect y="441.2" x="190.4" height="39.30000000000001" width="13.0" fill="#fff" stroke="none"/>
<line class="w" x1="190.4" y1="441.2" x2="203.4" y2="441.2"/>
<line class="w" x1="190.4" y1="480.5" x2="203.4" y2="480.5"/>
<line class="w" x1="190.4" y1="441.2" x2="190.4" y2="480.5"/>
<line class="w" x1="203.4" y1="441.2" x2="203.4" y2="480.5"/>
<line class="m" x1="193.26" y1="441.2" x2="193.26" y2="480.5"/>
<line class="m" x1="194.3" y1="441.2" x2="194.3" y2="480.5"/>
<line class="t" x1="196.5" y1="441.2" x2="196.5" y2="480.5"/>
<line class="w" x1="199.76" y1="441.2" x2="199.76" y2="480.5"/>
<rect y="504.3" x="190.4" height="39.30000000000001" width="13.0" fill="#fff" stroke="none"/>
<line class="w" x1="190.4" y1="504.3" x2="203.4" y2="504.3"/>
<line class="w" x1="190.4" y1="543.6" x2="203.4" y2="543.6"/>
<line class="w" x1="190.4" y1="504.3" x2="190.4" y2="543.6"/>
<line class="w" x1="203.4" y1="504.3" x2="203.4" y2="543.6"/>
<line class="m" x1="193.26" y1="504.3" x2="193.26" y2="543.6"/>
<line class="m" x1="194.3" y1="504.3" x2="194.3" y2="543.6"/>
<line class="t" x1="196.5" y1="504.3" x2="196.5" y2="543.6"/>
<line class="w" x1="199.76" y1="504.3" x2="199.76" y2="543.6"/>
<rect y="475.5" x="502.3" height="16.5" width="12.900000000000034" fill="#fff" stroke="none"/>
<line class="w" x1="515.2" y1="475.5" x2="502.3" y2="475.5"/>
<line class="w" x1="515.2" y1="492" x2="502.3" y2="492"/>
<line class="w" x1="515.2" y1="475.5" x2="515.2" y2="492"/>
<line class="w" x1="502.3" y1="475.5" x2="502.3" y2="492"/>
<line class="m" x1="512.36" y1="475.5" x2="512.36" y2="492"/>
<line class="m" x1="511.33" y1="475.5" x2="511.33" y2="492"/>
<line class="t" x1="509.5" y1="475.5" x2="509.5" y2="492"/>
<line class="w" x1="505.91" y1="475.5" x2="505.91" y2="492"/>
<rect y="497.5" x="502.3" height="15.0" width="12.900000000000034" fill="#fff" stroke="none"/>
<line class="w" x1="515.2" y1="497.5" x2="502.3" y2="497.5"/>
<line class="w" x1="515.2" y1="512.5" x2="502.3" y2="512.5"/>
<line class="w" x1="515.2" y1="497.5" x2="515.2" y2="512.5"/>
<line class="w" x1="502.3" y1="497.5" x2="502.3" y2="512.5"/>
<line class="m" x1="512.36" y1="497.5" x2="512.36" y2="512.5"/>
<line class="m" x1="511.33" y1="497.5" x2="511.33" y2="512.5"/>
<line class="t" x1="509.5" y1="497.5" x2="509.5" y2="512.5"/>
<line class="w" x1="505.91" y1="497.5" x2="505.91" y2="512.5"/>
<rect y="594.25" x="281" height="39.0" width="13.199999999999989" fill="#fff" stroke="none"/>
<line class="w" x1="281" y1="594.25" x2="294.2" y2="594.25"/>
<line class="w" x1="281" y1="633.25" x2="294.2" y2="633.25"/>
<line class="w" x1="281" y1="594.25" x2="281" y2="633.25"/>
<line class="w" x1="294.2" y1="594.25" x2="294.2" y2="633.25"/>
<line class="m" x1="283.9" y1="594.25" x2="283.9" y2="633.25"/>
<line class="m" x1="284.96" y1="594.25" x2="284.96" y2="633.25"/>
<line class="t" x1="287.5" y1="594.25" x2="287.5" y2="633.25"/>
<line class="w" x1="290.5" y1="594.25" x2="290.5" y2="633.25"/>
<path class="w" d="M203.4 360.4 L320.8 360.4" />
<line class="w" x1="219.3" y1="346" x2="219.3" y2="360.4"/>
<rect class="w" x="269.5" y="346" width="21.25" height="14.399999999999977"/>
<circle cx="274.8" cy="348.8" r="1.1" fill="#000"/>
<circle cx="274.8" cy="358.1" r="1.1" fill="#000"/>
<circle cx="284.6" cy="348.8" r="1.1" fill="#000"/>
<circle cx="284.6" cy="358.1" r="1.1" fill="#000"/>
<circle cx="211" cy="353.2" r="1.2" fill="#000"/>
<circle class="w" cx="310" cy="353.5" r="5.1"/>
<circle cx="308.2" cy="356.2" r="1" fill="#000"/>
<path class="w" d="M320.8 346 L320.8 394.2 L405.75 394.2 L405.75 390.2 L324.4 390.2 L324.4 346" />
<circle class="w" cx="338.4" cy="354.7" r="3.1"/>
<text class="lbl" x="337" y="364.6" font-size="8.3" text-anchor="start" textLength="37" lengthAdjust="spacingAndGlyphs" >скважина</text>
<text class="lbl" x="361" y="373.6" font-size="8.3" text-anchor="start" textLength="41.5" lengthAdjust="spacingAndGlyphs" >котельная</text>
<path class="w" d="M437 346 L437 390 L427 390 L427 394.25 L437 394.25 L437 397 L443.25 397 L443.25 394.25 L472.5 394.25 L472.5 390 L443.25 390 L443.25 346" />
<circle class="w" cx="428" cy="368" r="6"/>
<line class="w" x1="437" y1="390" x2="437" y2="394.25"/>
<line class="w" x1="443.25" y1="390" x2="443.25" y2="394.25"/>
<rect class="w" x="498.75" y="390" width="3.5500000000000114" height="4.25"/>
<path class="w" d="M515.2 333.1 L553.8 333.1 L553.8 408.5 L515.2 408.5" />
<path class="w2" d="M515.2 338.4 L553.8 338.4" />
<line class="w" x1="546.3" y1="338.4" x2="546.3" y2="403"/>
<line class="w" x1="515.2" y1="403" x2="546.3" y2="403"/>
<path class="w" d="M203.4 404.5 L265.25 404.5 L275 394.5 L285.5 405 L270.8 419.9 L203.4 419.9" />
<circle class="w" cx="210" cy="425.9" r="2.9"/>
<circle class="w" cx="219.6" cy="426.3" r="2.9"/>
<circle class="w" cx="229.7" cy="426.7" r="2.9"/>
<path class="w" d="M213.1 457 L213.1 508.5 M230.6 457 L230.6 508.5" />
<ellipse class="w" cx="221.8" cy="456.9" rx="8.9" ry="3.1"/>
<ellipse class="w" cx="221.8" cy="508.6" rx="8.9" ry="3.1"/>
<path class="w" d="M213 456.5 C208.5 470 208.5 495 213 509" />
<path class="w" d="M240 446 L240 461.5 L263.5 460.5 L263 445" />
<ellipse class="w" cx="251.5" cy="443.6" rx="13.5" ry="3.6" transform="rotate(-3 251.5 443.6)"/>
<path class="w" d="M238.5 444 C233.5 449 234.5 458 240 461.5" />
<path class="w" d="M264.5 442.5 C268 447 268 456 264.5 460.5" />
<path class="w" d="M267.3 452.5 C276 452 282 460 279.5 470 C276 484 262 498 245 504.5 C239 506.7 234 506.5 230.6 504.5 M230.6 472 L238.8 463" />
<path class="w" d="M320.4 539.4 L320.4 438.5 L326.6 438.5 L326.6 442.3 L324.6 442.3 L324.6 492.6" />
<rect class="w" x="324.6" y="492.6" width="18.899999999999977" height="3.7999999999999545"/>
<line class="w" x1="324.6" y1="496.4" x2="324.6" y2="539.4"/>
<path class="w" d="M320.4 500.6 L315 500.6 L304.6 508.75 L304.6 513.1 L336.25 513.1 L336.25 496.4" />
<path class="w" d="M304.6 513.1 L264.4 554.4" />
<path class="w" d="M368 516.5 L306.9 516.5 L285.1 539.4 L291.25 539.4 L291.25 543.1 L281.5 543.1 L267.5 557.5" />
<line class="w" x1="324.6" y1="523.6" x2="368" y2="523.6"/>
<path class="w" d="M264.4 534.4 L283.75 515 L286.9 517.25 L268.1 538.1 Z" />
<path class="w" d="M286.9 517.25 C291 524 283 537 268.1 538.1" />
<path class="m" d="M270 536 L287.5 518.5" />
<rect class="w" x="347.3" y="438.4" width="10.599999999999966" height="10.0"/>
<line class="w" x1="357.9" y1="438.4" x2="398" y2="438.4"/>
<line class="w" x1="357.9" y1="442" x2="394.25" y2="442"/>
<path class="w" d="M394.25 436.4 L394.25 512.5 L398 512.5 L398 432.9" />
<rect class="w" x="364.5" y="442" width="16.600000000000023" height="9.699999999999989"/>
<line class="w2" x1="364.5" y1="441.7" x2="381.1" y2="441.7"/>
<circle cx="371.9" cy="444.6" r="1" fill="#000"/>
<path class="w" d="M368.75 489.4 L389.4 489.4 L389.4 468.1 A20.8 21.3 0 0 0 368.75 489.4 Z" />
<circle class="w" cx="384" cy="482.9" r="1.4"/>
<rect class="w" x="364.4" y="492.6" width="29.200000000000045" height="3.7999999999999545"/>
<line class="w" x1="368" y1="496.4" x2="368" y2="539.4"/>
<line class="w" x1="372.2" y1="496.4" x2="372.2" y2="539.4"/>
<path class="w" d="M376.2 499.6 L389.7 499.6 L389.7 513 C389.7 522 376.2 522 376.2 513 Z" />
<circle class="w" cx="382.2" cy="516" r="1.2"/>
<path class="w" d="M314.3 539.4 L394.2 539.4 L394.2 536.3 L398.3 536.3 L398.3 547.5 L394.2 547.5 L394.2 543.4 L314.3 543.4 Z" />
<rect class="w" x="315.7" y="544.6" width="31.900000000000034" height="14.149999999999977"/>
<rect class="w" x="317.6" y="546.8" width="28.5" height="2.6000000000000227"/>
<path class="w" d="M347.6 543.4 L357.7 543.4 L357.7 552.3 L347.6 552.3" />
<text class="lbl" x="310" y="510.3" font-size="8.3" text-anchor="start" textLength="22.5" lengthAdjust="spacingAndGlyphs" >камин</text>
<text class="lbl" x="339.3" y="534.4" font-size="8.3" text-anchor="start" textLength="17.7" lengthAdjust="spacingAndGlyphs" >баня</text>
<path class="w" d="M437 539.5 L437 422.5 L443.25 422.5 L443.25 539.5" />
<rect class="w" x="443.25" y="430" width="29.75" height="31.25"/>
<path class="w" d="M473 461.25 L443.25 430 M473 461.25 L463.75 430 M473 461.25 L443.25 450" />
<line class="w" x1="443.25" y1="461.25" x2="501.75" y2="461.25"/>
<line class="w" x1="443.25" y1="468.75" x2="501.75" y2="468.75"/>
<line class="w" x1="443.25" y1="476.25" x2="501.75" y2="476.25"/>
<line class="w" x1="443.25" y1="484.5" x2="501.75" y2="484.5"/>
<line class="w" x1="443.25" y1="492.5" x2="501.75" y2="492.5"/>
<line class="w" x1="443.25" y1="500" x2="501.75" y2="500"/>
<line class="w" x1="443.25" y1="508" x2="501.75" y2="508"/>
<line class="w" x1="473" y1="461.25" x2="473" y2="539.5"/>
<path class="w" d="M473 508 L501.75 517.5 M473 508 L501.75 537.5 M473 508 L482.5 539.5" />
<path class="w" d="M431.25 539.5 L502.3 539.5" />
<path class="w" d="M437 543.75 L431.25 543.75 L431.25 539.5" />
<line class="w" x1="443.25" y1="543.75" x2="502.3" y2="543.75"/>
<line class="w" x1="441.4" y1="557.5" x2="502.3" y2="557.5"/>
<path class="w" d="M436.9 543.75 L436.9 563.1 L424.4 573.1 L424.4 576.5 L428.75 576.5 L441.3 565 L441.3 543.75" />
<path class="w" d="M456.3 551 L484.4 551 M458.4 553.4 L462.8 548.6 M464.7 553.4 L469.1 548.6 M470.3 553.4 L474.7 548.6 M476.6 553.4 L481 548.6" />
<rect class="w" x="312.75" y="588.4" width="52.85000000000002" height="51.89999999999998"/>
<rect class="w" x="297.75" y="625.3" width="15.0" height="15.0"/>
<rect class="w" x="367.5" y="625.3" width="15.899999999999977" height="15.0"/>
<path class="w" d="M318.70000000000005 627.2 L328.1 617.8 L337.5 627.2 L328.1 636.6 Z" />
<path class="w" d="M343.1 627.2 L352.5 617.8 L361.9 627.2 L352.5 636.6 Z" />
<text class="lbl" x="312.2" y="576" font-size="8.3" text-anchor="start" textLength="31.3" lengthAdjust="spacingAndGlyphs" >спальня</text>
<path class="w" d="M394.3 644.7 L394.3 577.5 L391.5 577.5 L391.5 573.1 L394.3 573.1 L394.3 571 L398.6 571 L398.6 573.1 L400.6 573.1 L400.6 577.5 L398.6 577.5 L398.6 644.7" />
<line class="w" x1="394.3" y1="573.1" x2="394.3" y2="577.5"/>
<line class="w" x1="398.6" y1="573.1" x2="398.6" y2="577.5"/>
<line class="w" x1="394.3" y1="644.7" x2="398.6" y2="644.7"/>
<rect class="w" x="402.5" y="604.2" width="14.100000000000023" height="32.19999999999993"/>
<rect class="w" x="404.4" y="606.5" width="3.3000000000000114" height="26.899999999999977"/>
<rect class="w" x="480.75" y="578.25" width="15.949999999999989" height="15.25"/>
<rect class="w" x="444" y="600" width="52.69999999999999" height="38.799999999999955"/>
<path class="w" d="M475.1 620.75 L484.6 611.25 L494.1 620.75 L484.6 630.25 Z" />
<text class="lbl" x="438" y="593.8" font-size="8.3" text-anchor="start" textLength="31.2" lengthAdjust="spacingAndGlyphs" >спальня</text>
<line class="t" x1="57" y1="221.5" x2="193.5" y2="221.5"/>
<line class="t" x1="190.5" y1="216" x2="190.5" y2="335"/>
<line class="t" x1="57.199999999999996" y1="224.79999999999998" x2="63.6" y2="218.4"/>
<line class="t" x1="187.20000000000002" y1="224.79999999999998" x2="193.6" y2="218.4"/>
<text class="d" x="125.3" y="219.9" font-size="10.8" text-anchor="middle" >5000</text>
<line class="t" x1="193" y1="294.5" x2="512" y2="294.5"/>
<line class="t" x1="196.5" y1="289" x2="196.5" y2="335"/>
<line class="t" x1="509.5" y1="289" x2="509.5" y2="335"/>
<line class="t" x1="193.5" y1="297.7" x2="199.89999999999998" y2="291.3"/>
<line class="t" x1="505.8" y1="297.7" x2="512.2" y2="291.3"/>
<text class="d" x="352.8" y="293.8" font-size="10.8" text-anchor="middle" >12000</text>
<line class="t" x1="538.5" y1="252" x2="538.5" y2="336"/>
<line class="t" x1="535.1999999999999" y1="251.9" x2="541.6" y2="258.3"/>
<line class="t" x1="535.1999999999999" y1="329.8" x2="541.6" y2="336.2"/>
<line class="t" x1="534" y1="333.5" x2="556" y2="333.5"/>
<text class="d" x="536.7" y="294.2" font-size="10.8" text-anchor="middle" transform="rotate(-90 536.7 294.2)" >3000</text>
<line class="t" x1="556.5" y1="334" x2="556.5" y2="655"/>
<line class="t" x1="553.6999999999999" y1="335.3" x2="560.1" y2="341.7"/>
<line class="t" x1="553.6999999999999" y1="648.3" x2="560.1" y2="654.7"/>
<line class="t" x1="515" y1="651.5" x2="560.5" y2="651.5"/>
<line class="t" x1="553" y1="338.5" x2="560.5" y2="338.5"/>
<text class="d" x="554.8" y="495.3" font-size="10.8" text-anchor="middle" transform="rotate(-90 554.8 495.3)" >12000</text>
<line class="t" x1="193" y1="545.5" x2="265" y2="545.5"/>
<line class="t" x1="193.5" y1="548.7" x2="199.89999999999998" y2="542.3"/>
<line class="t" x1="258.7" y1="548.7" x2="265.09999999999997" y2="542.3"/>
<line class="t" x1="261.5" y1="541" x2="261.5" y2="561"/>
<text class="d" x="229.3" y="543.3" font-size="10.8" text-anchor="middle" >2500</text>
<line class="t" x1="156.5" y1="557" x2="156.5" y2="655"/>
<line class="t" x1="153.10000000000002" y1="557.3" x2="159.5" y2="563.7"/>
<line class="t" x1="153.10000000000002" y1="648.3" x2="159.5" y2="654.7"/>
<line class="t" x1="152" y1="560.5" x2="190" y2="560.5"/>
<line class="t" x1="152" y1="651.5" x2="197" y2="651.5"/>
<text class="d" x="155.3" y="606" font-size="10.8" text-anchor="middle" transform="rotate(-90 155.3 606)" >3500</text>
<line class="t" x1="193" y1="698.5" x2="291.5" y2="698.5"/>
<line class="t" x1="193.5" y1="701.5" x2="199.89999999999998" y2="695.0999999999999"/>
<line class="t" x1="284.55" y1="701.5" x2="290.95" y2="695.0999999999999"/>
<line class="t" x1="290.5" y1="694.5" x2="505.5" y2="694.5"/>
<line class="t" x1="291.2" y1="697.2" x2="297.59999999999997" y2="690.8"/>
<line class="t" x1="498.40000000000003" y1="697.2" x2="504.8" y2="690.8"/>
<line class="t" x1="196.5" y1="545" x2="196.5" y2="573"/>
<line class="t" x1="196.5" y1="651" x2="196.5" y2="702"/>
<line class="t" x1="287.5" y1="651" x2="287.5" y2="702"/>
<line class="t" x1="294.5" y1="658" x2="294.5" y2="697.5"/>
<line class="t" x1="501.5" y1="658" x2="501.5" y2="697.5"/>
<text class="d" x="242.1" y="696.4" font-size="10.8" text-anchor="middle" >3500</text>
<text class="d" x="398" y="692.5" font-size="10.8" text-anchor="middle" >8000</text>
<g class="ttl">
<path d="M301.9 200 L307.4 194.9 L307.4 218.6"/>
<path d="M331.2 203.3 L339.5 203.3 Q343 203.3 343 206.8 L343 213.8 Q343 217.25 339.5 217.25 L331.2 217.25 M334.6 210.2 L343 210.2"/>
<path d="M346.9 203.3 L359.8 203.3 Q362.8 203.3 362.8 206.3 L362.8 218.6 M347.9 203.3 L347.9 218.6 M355.3 203.3 L355.3 218.6"/>
<path d="M382 202.6 L382 218.6 M382 206.6 Q382 203.3 378.6 203.3 L373 203.3 Q369.5 203.3 369.5 206.8 L369.5 213.8 Q369.5 217.25 373 217.25 L378.6 217.25 Q382 217.25 382 214"/>
<path d="M399.55 202.7 L399.55 218.6 M389.9 202.7 L397 210.2 L389.3 218.6 M409.8 202.7 L402.2 210.2 L410.3 218.6 M397 210.2 L402.2 210.2"/>
</g>
</svg>
</body></html>
